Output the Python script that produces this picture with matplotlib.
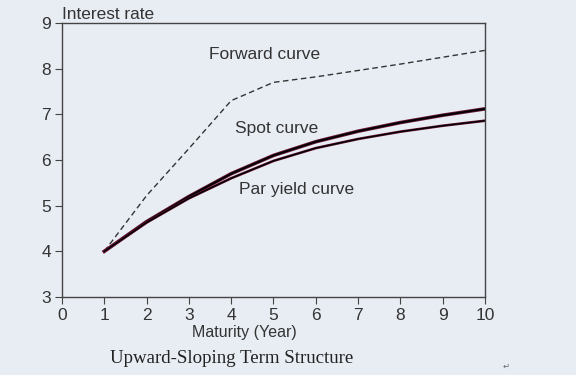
import matplotlib.pyplot as plt
import numpy as np

maturity = [1, 2, 3, 4, 5, 6, 7, 8, 9, 10]
forward = [4.0, 5.22, 6.25, 7.3, 7.7, 7.82, 7.96, 8.1, 8.25, 8.4]
spot = [4.0, 4.65, 5.2, 5.7, 6.1, 6.4, 6.63, 6.82, 6.98, 7.12]
par = [4.0, 4.63, 5.16, 5.6, 5.98, 6.26, 6.46, 6.62, 6.75, 6.86]

bg = '#e8edf4'
txt = '#333333'
plt.rcParams['font.family'] = ['Liberation Sans', 'DejaVu Sans']

fig = plt.figure(figsize=(5.76, 3.75), dpi=100, facecolor=bg)
ax = fig.add_axes([0.1076, 0.208, 0.7344, 0.7307], facecolor=bg)

ax.plot(maturity, forward, '--', color='#333333', lw=1.0, dashes=(4, 2.5))
ax.plot(maturity, spot, color='#6a1838', lw=2.6)
ax.plot(maturity, spot, color='black', lw=1.4)
ax.plot(maturity, par, color='#6a1838', lw=1.9)
ax.plot(maturity, par, color='black', lw=1.0)

ax.text(3.47, 8.3, 'Forward curve', fontsize=12.5, color=txt, va='center')
ax.text(4.09, 6.7, 'Spot curve', fontsize=12.5, color=txt, va='center')
ax.text(4.18, 5.36, 'Par yield curve', fontsize=12.5, color=txt, va='center')

ax.set_xlim(0, 10)
ax.set_ylim(3, 9)
ax.set_xticks(range(0, 11))
ax.set_yticks(range(3, 10))
ax.tick_params(direction='out', length=5, width=0.8, colors='#444444', labelsize=12.5,
               labelcolor=txt, pad=3)
for s in ax.spines.values():
    s.set_color('#444444')
    s.set_linewidth(1.0)

fig.text(0.108, 0.962, 'Interest rate', fontsize=12.4, color=txt, va='center')
fig.text(0.424, 0.114, 'Maturity (Year)', fontsize=11.5, color=txt, ha='center', va='center')
fig.text(0.402, 0.045, 'Upward-Sloping Term Structure', fontsize=13.6, color='#222222',
         ha='center', va='center', family=['Liberation Serif', 'DejaVu Serif'])
fig.text(0.872, 0.02, '\u21b5', fontsize=6, color='#666666', ha='left', va='center')

fig.savefig('out.png', dpi=100, facecolor=bg)
